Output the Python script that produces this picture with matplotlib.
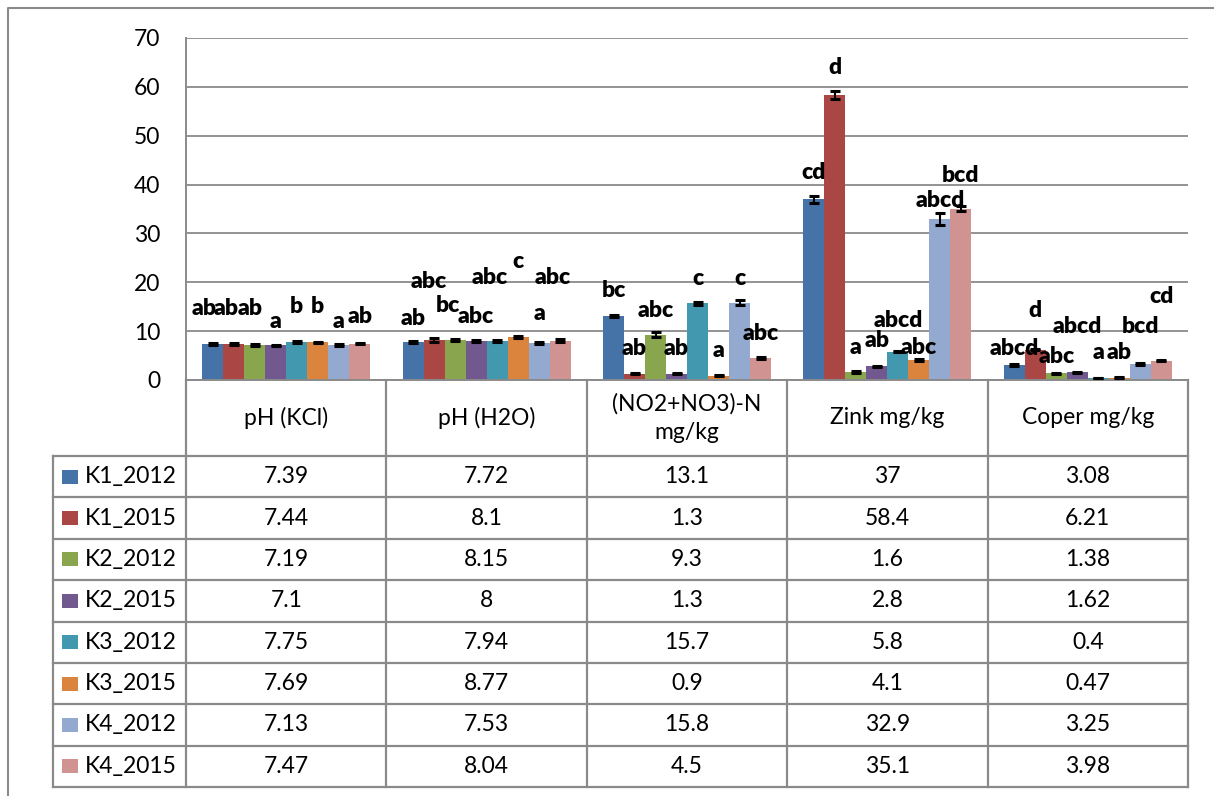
import matplotlib
matplotlib.use('Agg')
import matplotlib.pyplot as plt
import matplotlib.transforms as mtransforms
from matplotlib.lines import Line2D
from matplotlib.patches import Rectangle

# ---------------- data ----------------
categories = ['pH (KCl)', 'pH (H2O)', '(NO2+NO3)-N\nmg/kg', 'Zink mg/kg', 'Coper mg/kg']
series_names = ['K1_2012', 'K1_2015', 'K2_2012', 'K2_2015',
                'K3_2012', 'K3_2015', 'K4_2012', 'K4_2015']

K1_2012 = [7.39, 7.72, 13.1, 37, 3.08]
K1_2015 = [7.44, 8.1, 1.3, 58.4, 6.21]
K2_2012 = [7.19, 8.15, 9.3, 1.6, 1.38]
K2_2015 = [7.1, 8, 1.3, 2.8, 1.62]
K3_2012 = [7.75, 7.94, 15.7, 5.8, 0.4]
K3_2015 = [7.69, 8.77, 0.9, 4.1, 0.47]
K4_2012 = [7.13, 7.53, 15.8, 32.9, 3.25]
K4_2015 = [7.47, 8.04, 4.5, 35.1, 3.98]
values = [K1_2012, K1_2015, K2_2012, K2_2015, K3_2012, K3_2015, K4_2012, K4_2015]

# estimated error-bar half widths
err_K1_2012 = [0.2, 0.2, 0.25, 0.7, 0.15]
err_K1_2015 = [0.2, 0.4, 0.15, 0.85, 0.15]
err_K2_2012 = [0.15, 0.2, 0.6, 0.15, 0.1]
err_K2_2015 = [0.15, 0.15, 0.15, 0.15, 0.1]
err_K3_2012 = [0.2, 0.15, 0.25, 0.15, 0.05]
err_K3_2015 = [0.15, 0.2, 0.1, 0.15, 0.1]
err_K4_2012 = [0.15, 0.2, 0.55, 1.2, 0.15]
err_K4_2015 = [0.2, 0.25, 0.15, 0.5, 0.15]
errors = [err_K1_2012, err_K1_2015, err_K2_2012, err_K2_2015,
          err_K3_2012, err_K3_2015, err_K4_2012, err_K4_2015]

# significance letters (per series, per category)
let_K1_2012 = ['ab', 'ab', 'bc', 'cd', 'abcd']
let_K1_2015 = ['ab', 'abc', 'ab', 'd', 'd']
let_K2_2012 = ['ab', 'bc', 'abc', 'a', 'abc']
let_K2_2015 = ['a', 'abc', 'ab', 'ab', 'abcd']
let_K3_2012 = ['b', 'abc', 'c', 'abcd', 'a']
let_K3_2015 = ['b', 'c', 'a', 'abc', 'ab']
let_K4_2012 = ['a', 'a', 'c', 'abcd', 'bcd']
let_K4_2015 = ['ab', 'abc', 'abc', 'bcd', 'cd']
letters = [let_K1_2012, let_K1_2015, let_K2_2012, let_K2_2015,
           let_K3_2012, let_K3_2015, let_K4_2012, let_K4_2015]

# ---------------- layout / style ----------------
colors = ['#4572A7', '#AA4643', '#89A54E', '#71588F',
          '#4198AF', '#DB843D', '#93A9CF', '#D19392']

# letter label baselines (data units) and x nudges (pixels), per series/category
lab_y = [[13.3, 11.3, 17.0, 41.1, 5.1],
         [13.3, 18.8, 5.1, 62.6, 12.9],
         [13.3, 13.9, 12.9, 5.3, 3.5],
         [10.6, 11.7, 5.1, 6.8, 9.6],
         [13.7, 19.6, 19.4, 10.8, 4.3],
         [13.7, 22.9, 4.7, 5.3, 4.3],
         [10.6, 12.3, 19.4, 35.4, 9.6],
         [11.7, 19.6, 8.2, 40.5, 15.8]]
lab_dx = [[-9, 0, 0, 0, 0],
          [-8, -5, 0, 0, 0],
          [-5, -7, 0, 0, 0],
          [0, 0, 0, 0, 0],
          [0, -7, 0, 0, 0],
          [0, 0, 0, 0, 0],
          [0, 0, 0, 0, 0],
          [0, -7, 0, 0, 0]]

W, H = 1214, 796
def fx(px):
    return px / W
def fy(py):
    return 1 - py / H

GRID = '#8A8A8A'
FONT = 'Lato'
plt.rcParams['font.family'] = [FONT, 'DejaVu Sans']
TFS = 16.5

fig = plt.figure(figsize=(W / 100, H / 100), dpi=100)
ax = fig.add_axes([fx(186), fy(380), fx(1188) - fx(186), fy(38) - fy(380)])
ax.set_xlim(-0.5, len(categories) - 0.5)
ax.set_ylim(0, 70)
ax.set_yticks(range(0, 71, 10))
ax.set_xticks([])
ax.yaxis.grid(True, color=GRID, lw=1.3)
ax.set_axisbelow(True)
for s in ['top', 'right']:
    ax.spines[s].set_visible(False)
for s in ['left', 'bottom']:
    ax.spines[s].set_color(GRID)
    ax.spines[s].set_linewidth(1.4)
ax.tick_params(axis='y', length=0, pad=18.5, labelsize=TFS, labelcolor='black')

px_per_unit = (1188 - 186) / len(categories)
bw = 21.0 / px_per_unit
n = len(series_names)
for i in range(n):
    xs = [j + (i - (n - 1) / 2) * bw for j in range(len(categories))]
    ax.bar(xs, values[i], bw, color=colors[i], zorder=2,
           yerr=errors[i],
           error_kw=dict(ecolor='black', elinewidth=1.5, capsize=3.6, capthick=2.2, zorder=3))
    for j in range(len(categories)):
        ax.text(xs[j] + lab_dx[i][j] / px_per_unit, lab_y[i][j], letters[i][j],
                ha='center', va='baseline', fontsize=16.5, fontweight='heavy',
                color='black', zorder=4)

# ---------------- data table ----------------
trans = mtransforms.blended_transform_factory(ax.transData, fig.transFigure)
x_left_legend = -0.5 - (186 - 53) / px_per_unit
x_right = len(categories) - 0.5
y_top = 380
y_head = 456
row_h = (787 - 456) / n

lw_t = 1.6
for k in range(len(categories) + 1):
    xv = k - 0.5
    fig.add_artist(Line2D([xv, xv], [fy(y_top), fy(787)], transform=trans,
                          color=GRID, lw=lw_t))
fig.add_artist(Line2D([x_left_legend, x_left_legend], [fy(y_head), fy(787)],
                      transform=trans, color=GRID, lw=lw_t))
for r in range(n + 1):
    yy = fy(y_head + r * row_h)
    fig.add_artist(Line2D([x_left_legend, x_right], [yy, yy], transform=trans,
                          color=GRID, lw=lw_t))

for j, c in enumerate(categories):
    fig.text(j, fy(418), c, transform=trans, ha='center', va='center',
             fontsize=TFS, linespacing=1.4)

for i, name in enumerate(series_names):
    yc = y_head + (i + 0.5) * row_h
    fig.add_artist(Rectangle((fx(62), fy(yc + 7)), fx(78) - fx(62), fy(yc - 7) - fy(yc + 7),
                             transform=fig.transFigure, facecolor=colors[i], edgecolor='none'))
    fig.text(fx(85), fy(yc), name, ha='left', va='center', fontsize=TFS)
    for j in range(len(categories)):
        fig.text(j, fy(yc), '{:g}'.format(values[i][j]), transform=trans,
                 ha='center', va='center', fontsize=TFS)

fig.add_artist(Line2D([fx(8), fx(8), fx(W)], [fy(H), fy(8), fy(8)],
                      transform=fig.transFigure, color=GRID, lw=1.5))

fig.savefig('out.png', dpi=100)
